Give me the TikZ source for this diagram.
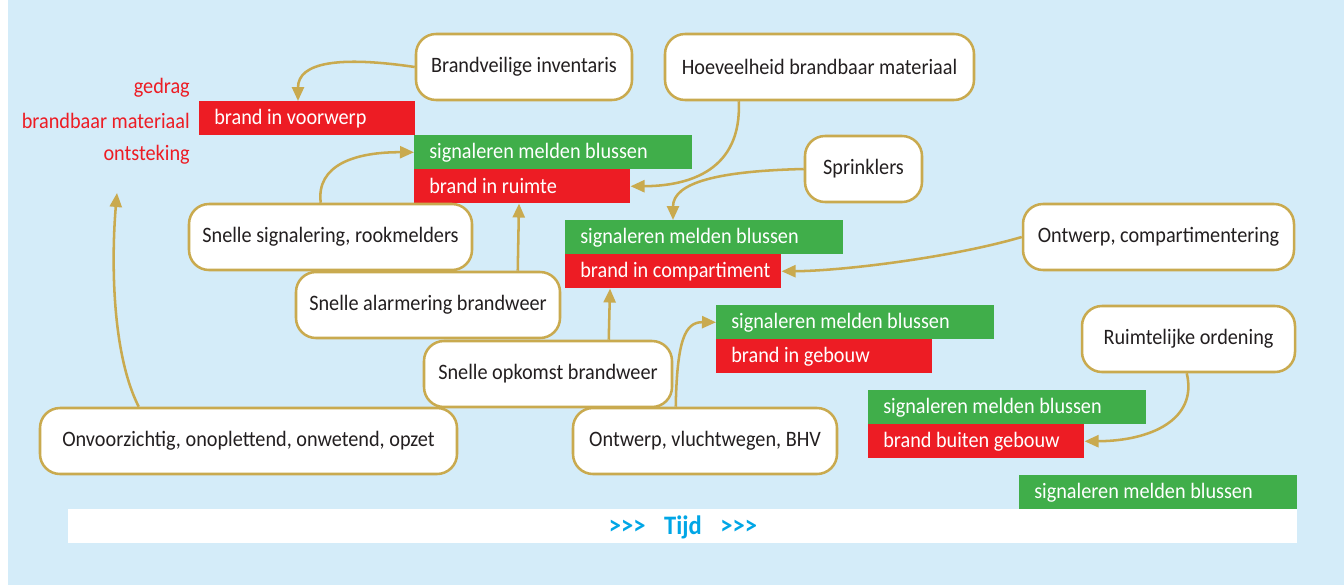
\documentclass[tikz,border=0pt]{standalone}
\usepackage{fontspec}
\setmainfont{Carlito}[FakeStretch=0.92]
\usetikzlibrary{arrows.meta,calc}
\definecolor{bgblue}{HTML}{D4ECF9}
\definecolor{gold}{HTML}{C9AA4F}
\definecolor{fgreen}{HTML}{40AE4A}
\definecolor{fred}{HTML}{ED1C24}
\definecolor{dtext}{HTML}{231F20}
\definecolor{tcyan}{HTML}{00A6E6}
\begin{document}
\begin{tikzpicture}[x=0.75pt,y=-0.75pt,
  every node/.style={font=\fontsize{16.5}{19}\selectfont},
  mbox/.style={draw=gold,line width=1.9pt,fill=white,rounded corners=15pt,
    minimum height=49.5pt,inner sep=0pt,text=dtext},
  redbar/.style={fill=fred,anchor=north west,minimum width=162pt,
    inner sep=0pt,minimum height=25.5pt},
  greenbar/.style={fill=fgreen,anchor=north west,minimum width=208.5pt,
    inner sep=0pt,minimum height=25.5pt},
  bartext/.style={text=white,anchor=west,inner sep=0pt},
  lbl/.style={text=fred,anchor=east,inner sep=0pt},
  arr/.style={draw=gold,line width=1.9pt,-{Triangle[length=10.5pt,width=9pt]}}]
\useasboundingbox (0,0) rectangle (1344,585);
\fill[bgblue] (8,0) rectangle (1344,585);
% time bar
\fill[white] (68,509) rectangle (1297,543);
\node[text=tcyan,font=\fontsize{20}{22}\selectfont\bfseries] (tijd) at (683,527) {>\kern0pt>\kern0pt>\hspace{14pt}Tijd\hspace{14pt}>\kern0pt>\kern0pt>};
% left labels
\node[lbl] (lg) at (190,88) {gedrag};
\node[lbl] (lb) at (190,121) {brandbaar materiaal};
\node[lbl] (lo) at (190,155) {ontsteking};
% bars
\node[redbar] (r1) at (199,101) {};
\node[greenbar] (g1) at (414,135) {};
\node[redbar] (r2) at (414,169) {};
\node[greenbar] (g2) at (565,220) {};
\node[redbar] (r3) at (565,254) {};
\node[greenbar] (g3) at (716,305) {};
\node[redbar] (r4) at (716,339) {};
\node[greenbar] (g4) at (868,390) {};
\node[redbar] (r5) at (868,424) {};
\node[greenbar] (g5) at (1019,475) {};
\node[bartext] (r1t) at ($(r1.west)+(15,0)$) {brand in voorwerp};
\node[bartext] (g1t) at ($(g1.west)+(15,0)$) {signaleren melden blussen};
\node[bartext] (r2t) at ($(r2.west)+(15,0)$) {brand in ruimte};
\node[bartext] (g2t) at ($(g2.west)+(15,0)$) {signaleren melden blussen};
\node[bartext] (r3t) at ($(r3.west)+(15,0)$) {brand in compartiment};
\node[bartext] (g3t) at ($(g3.west)+(15,0)$) {signaleren melden blussen};
\node[bartext] (r4t) at ($(r4.west)+(15,0)$) {brand in gebouw};
\node[bartext] (g4t) at ($(g4.west)+(15,0)$) {signaleren melden blussen};
\node[bartext] (r5t) at ($(r5.west)+(15,0)$) {brand buiten gebouw};
\node[bartext] (g5t) at ($(g5.west)+(15,0)$) {signaleren melden blussen};
% boxes
\node[mbox,minimum width=162pt] (inv) at (524,67) {Brandveilige inventaris};
\node[mbox,minimum width=231.75pt] (hoev) at (819.5,67) {Hoeveelheid brandbaar materiaal};
\node[mbox,minimum width=87.75pt] (spr) at (863.5,169) {Sprinklers};
\node[mbox,minimum width=212.25pt] (sig) at (330.5,237) {Snelle signalering, rookmelders};
\node[mbox,minimum width=203.25pt] (comp) at (1158.5,237) {Ontwerp, compartimentering};
\node[mbox,minimum width=198pt] (alarm) at (428,305) {Snelle alarmering brandweer};
\node[mbox,minimum width=159.75pt] (ruimt) at (1188.5,339) {Ruimtelijke ordening};
\node[mbox,minimum width=186pt] (opk) at (548,374) {Snelle opkomst brandweer};
\node[mbox,minimum width=312.75pt] (onv) at (248.5,441) {Onvoorzichtig, onoplettend, onwetend, opzet};
\node[mbox,minimum width=198pt] (vlucht) at (705,441) {Ontwerp, vluchtwegen, BHV};
\coordinate (tipo) at (117,193);
% arrows
\draw[arr] (inv.west) .. controls (340,56) and (298,62) .. ($(r1.north west)+(99,0)$);
\draw[arr] ($(hoev.south west)+(75,0)$) .. controls (742,170) and (690,186) .. (r2.east);
\draw[arr] ($(sig.north west)+(133,0)$) .. controls (316,165) and (355,152) .. (g1.west);
\draw[arr] ($(alarm.north west)+(223,0)$) -- ($(r2.south west)+(105,0)$);
\draw[arr] (spr.west) .. controls (720,171) and (673,182) .. ($(g2.north west)+(108,0)$);
\draw[arr] (comp.west) .. controls (950,258) and (840,271) .. (r3.east);
\draw[arr] ($(opk.north west)+(186,0)$) -- ($(r3.south west)+(45,0)$);
\draw[arr] ($(vlucht.north west)+(104,0)$) .. controls (677,340) and (685,322) .. (g3.west);
\draw[arr] ($(ruimt.south west)+(106,0)$) .. controls (1198,420) and (1150,441) .. (r5.east);
\draw[arr] ($(onv.north west)+(100,0)$) .. controls (110,350) and (112,250) .. (tipo);
\end{tikzpicture}
\end{document}
